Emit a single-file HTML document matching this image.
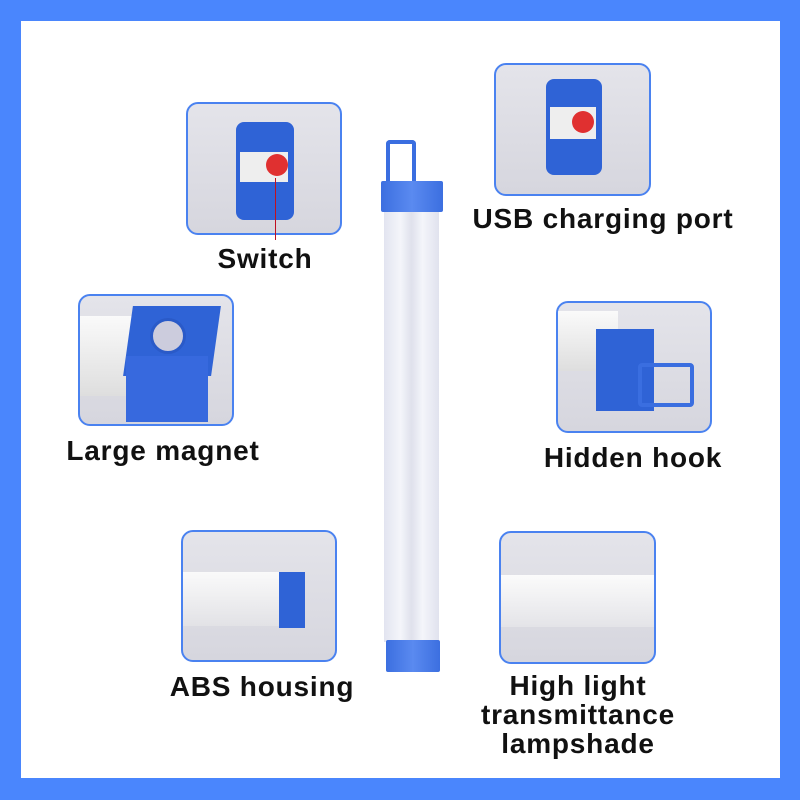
<!DOCTYPE html>
<html><head><meta charset="utf-8"><style>
body{margin:0;width:800px;height:800px;overflow:hidden;background:#4a86fd;position:relative;font-family:"Liberation Sans","DejaVu Sans",sans-serif}
.in{position:absolute;left:21px;top:21px;width:759px;height:757px;background:#fff}
.b{position:absolute;border:2px solid #4a82f0;border-radius:12px;overflow:hidden;background:linear-gradient(180deg,#e4e4ea,#d6d6de)}
.t{position:absolute;font-weight:bold;font-size:28px;letter-spacing:0.8px;color:#111;text-align:center;white-space:nowrap;line-height:29px}
.a{position:absolute}
.blue{background:#2f63d6}
</style></head><body>
<div class="in"></div>

<div class="a" style="left:386px;top:140px;width:30px;height:44px;border:4px solid #3a6ee0;border-bottom:none;border-radius:4px 4px 0 0;box-sizing:border-box"></div>
<div class="a" style="left:381px;top:181px;width:62px;height:31px;background:linear-gradient(90deg,#3c6fe0,#5a8af0 50%,#3c6fe0);border-radius:2px"></div>
<div class="a" style="left:384px;top:212px;width:55px;height:430px;background:linear-gradient(90deg,#e2e4f0,#f4f5fa 30%,#dfe1ec 50%,#f4f5fa 70%,#e0e2ee)"></div>
<div class="a" style="left:386px;top:640px;width:54px;height:32px;background:linear-gradient(90deg,#3c6fe0,#5a8af0 50%,#3c6fe0);border-radius:2px"></div>

<div class="b" style="left:186px;top:102px;width:152px;height:129px">
 <div class="a blue" style="left:48px;top:18px;width:58px;height:98px;border-radius:8px"></div>
 <div class="a" style="left:52px;top:48px;width:48px;height:30px;background:#eee"></div>
 <div class="a" style="left:78px;top:50px;width:22px;height:22px;border-radius:50%;background:#e03030"></div>
</div>
<div class="a" style="left:275px;top:178px;width:1px;height:62px;background:#c01020"></div>
<div class="t" style="left:176px;top:244px;width:178px">Switch</div>

<div class="b" style="left:494px;top:63px;width:153px;height:129px">
 <div class="a blue" style="left:50px;top:14px;width:56px;height:96px;border-radius:8px"></div>
 <div class="a" style="left:54px;top:42px;width:46px;height:32px;background:#eee"></div>
 <div class="a" style="left:76px;top:46px;width:22px;height:22px;border-radius:50%;background:#e03030"></div>
</div>
<div class="t" style="left:450px;top:204px;width:306px">USB charging port</div>

<div class="b" style="left:78px;top:294px;width:152px;height:128px">
 <div class="a" style="left:0;top:20px;width:70px;height:80px;background:linear-gradient(180deg,#fafafa,#dedede)"></div>
 <div class="a blue" style="left:48px;top:10px;width:88px;height:70px;transform:skewX(-8deg)"></div>
 <div class="a blue" style="left:46px;top:60px;width:82px;height:66px;background:#3769de"></div>
 <div class="a" style="left:70px;top:22px;width:30px;height:30px;border-radius:50%;background:#ccd;border:3px solid #2a5ac8"></div>
</div>
<div class="t" style="left:42px;top:436px;width:242px">Large magnet</div>

<div class="b" style="left:556px;top:301px;width:152px;height:128px">
 <div class="a" style="left:0;top:8px;width:60px;height:60px;background:linear-gradient(180deg,#fafafa,#dedede)"></div>
 <div class="a blue" style="left:38px;top:26px;width:58px;height:82px"></div>
 <div class="a" style="left:80px;top:60px;width:56px;height:44px;border:4px solid #3a6ee0;border-radius:4px;box-sizing:border-box"></div>
</div>
<div class="t" style="left:512px;top:443px;width:242px">Hidden hook</div>

<div class="b" style="left:181px;top:530px;width:152px;height:128px">
 <div class="a" style="left:0;top:40px;width:110px;height:54px;background:linear-gradient(180deg,#fafafa,#e2e2e6)"></div>
 <div class="a blue" style="left:96px;top:40px;width:26px;height:56px"></div>
</div>
<div class="t" style="left:141px;top:672px;width:242px">ABS housing</div>

<div class="b" style="left:499px;top:531px;width:153px;height:129px">
 <div class="a" style="left:0;top:42px;width:153px;height:52px;background:linear-gradient(180deg,#fbfbfb,#e4e4e8)"></div>
</div>
<div class="t" style="left:440px;top:671px;width:276px">High light<br>transmittance<br>lampshade</div>
</body></html>
